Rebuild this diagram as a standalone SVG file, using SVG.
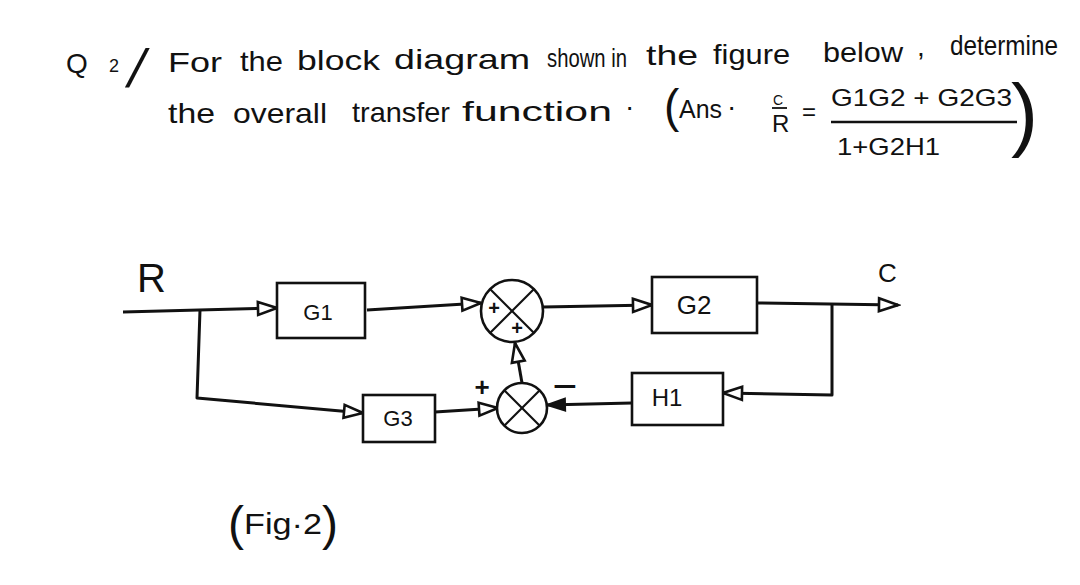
<svg xmlns="http://www.w3.org/2000/svg" width="1080" height="585" viewBox="0 0 1080 585">
<style>
.t{font-family:"Liberation Sans",Arial,sans-serif;fill:#111;}
.box{fill:#fff;stroke:#111;stroke-width:2.6;}
.sum{fill:#fff;stroke:#111;stroke-width:2.6;}
.x{stroke:#111;stroke-width:2.2;}
.ln{fill:none;stroke:#111;stroke-width:3;stroke-linejoin:round;}
.arr{marker-end:url(#ah);}
.arrf{marker-end:url(#ahf);}
</style>
<defs>
<marker id="ah" markerUnits="userSpaceOnUse" markerWidth="24" markerHeight="18" viewBox="0 0 24 18" refX="21" refY="9" orient="auto">
<path d="M2,2.5 L21,9 L2,15.5 z" fill="#fff" stroke="#111" stroke-width="2.6"/>
</marker>
<marker id="ahf" markerUnits="userSpaceOnUse" markerWidth="24" markerHeight="18" viewBox="0 0 24 18" refX="21" refY="9" orient="auto">
<path d="M3,3 L21,9 L3,15 z" fill="#111" stroke="#111" stroke-width="2"/>
</marker>
</defs>
<rect width="1080" height="585" fill="#fff"/>

<g id="question">
<text class="t" x="66" y="73" font-size="28">Q</text>
<text class="t" x="109" y="72" font-size="18">2</text>
<text class="t" transform="translate(125,87) skewX(-14)" x="0" y="0" font-size="54">/</text>
<text class="t" x="168" y="72" font-size="28" textLength="54" lengthAdjust="spacingAndGlyphs">For</text>
<text class="t" x="240" y="71" font-size="28" textLength="43" lengthAdjust="spacingAndGlyphs">the</text>
<text class="t" x="297" y="70" font-size="28" textLength="83" lengthAdjust="spacingAndGlyphs">block</text>
<text class="t" x="394" y="69" font-size="28" textLength="136" lengthAdjust="spacingAndGlyphs">diagram</text>
<text class="t" x="547" y="67" font-size="26" textLength="80" lengthAdjust="spacingAndGlyphs">shown in</text>
<text class="t" x="646" y="65" font-size="28" textLength="52" lengthAdjust="spacingAndGlyphs">the</text>
<text class="t" x="713" y="64" font-size="28" textLength="77" lengthAdjust="spacingAndGlyphs">figure</text>
<text class="t" x="823" y="62" font-size="28" textLength="80" lengthAdjust="spacingAndGlyphs">below</text>
<text class="t" x="917" y="56" font-size="28">,</text>
<text class="t" x="950" y="55" font-size="28" textLength="108" lengthAdjust="spacingAndGlyphs">determine</text>

<text class="t" x="168" y="123" font-size="28" textLength="47" lengthAdjust="spacingAndGlyphs">the</text>
<text class="t" x="233" y="123" font-size="28" textLength="94" lengthAdjust="spacingAndGlyphs">overall</text>
<text class="t" x="352" y="122" font-size="28" textLength="98" lengthAdjust="spacingAndGlyphs">transfer</text>
<text class="t" x="462" y="121" font-size="28" textLength="150" lengthAdjust="spacingAndGlyphs">function</text>
<text class="t" x="625" y="116" font-size="28">·</text>
<text class="t" x="664" y="122" font-size="46">(</text>
<text class="t" x="679" y="118" font-size="26" textLength="43" lengthAdjust="spacingAndGlyphs">Ans</text>
<text class="t" x="727" y="116" font-size="28">·</text>
<text class="t" x="773" y="105" font-size="14">C</text>
<line x1="772" y1="108" x2="787" y2="108" stroke="#111" stroke-width="1.8"/>
<text class="t" x="772" y="132" font-size="24">R</text>
<text class="t" x="802" y="120" font-size="24">=</text>
<text class="t" x="831" y="106" font-size="24" textLength="181" lengthAdjust="spacingAndGlyphs">G1G2 + G2G3</text>
<line x1="831" y1="122" x2="1017" y2="122" stroke="#111" stroke-width="2.5"/>
<text class="t" x="837" y="155" font-size="24" textLength="103" lengthAdjust="spacingAndGlyphs">1+G2H1</text>
<text class="t" x="1011" y="141" font-size="81">)</text>
</g>

<g id="connectors">
<line class="ln arr" x1="123" y1="312" x2="277" y2="308"/>
<polyline class="ln arr" points="200,310 197,398 363,413"/>
<line class="ln arr" x1="367" y1="310" x2="481" y2="303"/>
<line class="ln arr" x1="543" y1="307" x2="652" y2="305"/>
<line class="ln arr" x1="757" y1="303" x2="898" y2="305"/>
<polyline class="ln arr" points="832,304 832,395 723,393"/>
<line class="ln arrf" x1="632" y1="403" x2="547" y2="405"/>
<line class="ln arr" x1="435" y1="412" x2="498" y2="408"/>
<line class="ln arr" x1="522" y1="383" x2="515" y2="343"/>
</g>

<g id="label-R"><text class="t" x="137" y="292" font-size="40">R</text></g>
<g id="label-C"><text class="t" x="878" y="282" font-size="26">C</text></g>

<g id="G1">
<rect class="box" x="277" y="283" width="88" height="55"/>
<text class="t" x="318" y="320" font-size="22" text-anchor="middle">G1</text>
</g>
<g id="G3">
<rect class="box" x="363" y="395" width="72" height="47"/>
<text class="t" x="398" y="426" font-size="22" text-anchor="middle">G3</text>
</g>
<g id="G2">
<rect class="box" x="652" y="277" width="105" height="56"/>
<text class="t" x="694" y="314" font-size="26" text-anchor="middle">G2</text>
</g>
<g id="H1">
<rect class="box" x="632" y="373" width="91" height="52"/>
<text class="t" x="667" y="406" font-size="24" text-anchor="middle">H1</text>
</g>

<g id="sum1">
<circle class="sum" cx="512" cy="311" r="31"/>
<line class="x" x1="490" y1="289" x2="534" y2="333"/>
<line class="x" x1="534" y1="289" x2="490" y2="333"/>
<text class="t" x="494" y="315" font-size="20" font-weight="bold" text-anchor="middle">+</text>
<text class="t" x="517" y="335" font-size="20" font-weight="bold" text-anchor="middle">+</text>
</g>
<g id="sum2">
<circle class="sum" cx="522" cy="408" r="25"/>
<line class="x" x1="504" y1="390" x2="540" y2="426"/>
<line class="x" x1="540" y1="390" x2="504" y2="426"/>
<text class="t" x="482" y="396" font-size="26" font-weight="bold" text-anchor="middle">+</text>
<text class="t" x="565" y="396" font-size="28" font-weight="bold" text-anchor="middle" textLength="24" lengthAdjust="spacingAndGlyphs">−</text>
</g>

<g id="caption">
<text class="t" x="228" y="540" font-size="48">(</text>
<text class="t" x="244" y="534" font-size="30" textLength="78" lengthAdjust="spacingAndGlyphs">Fig·2</text>
<text class="t" x="322" y="540" font-size="48">)</text>
</g>
</svg>
